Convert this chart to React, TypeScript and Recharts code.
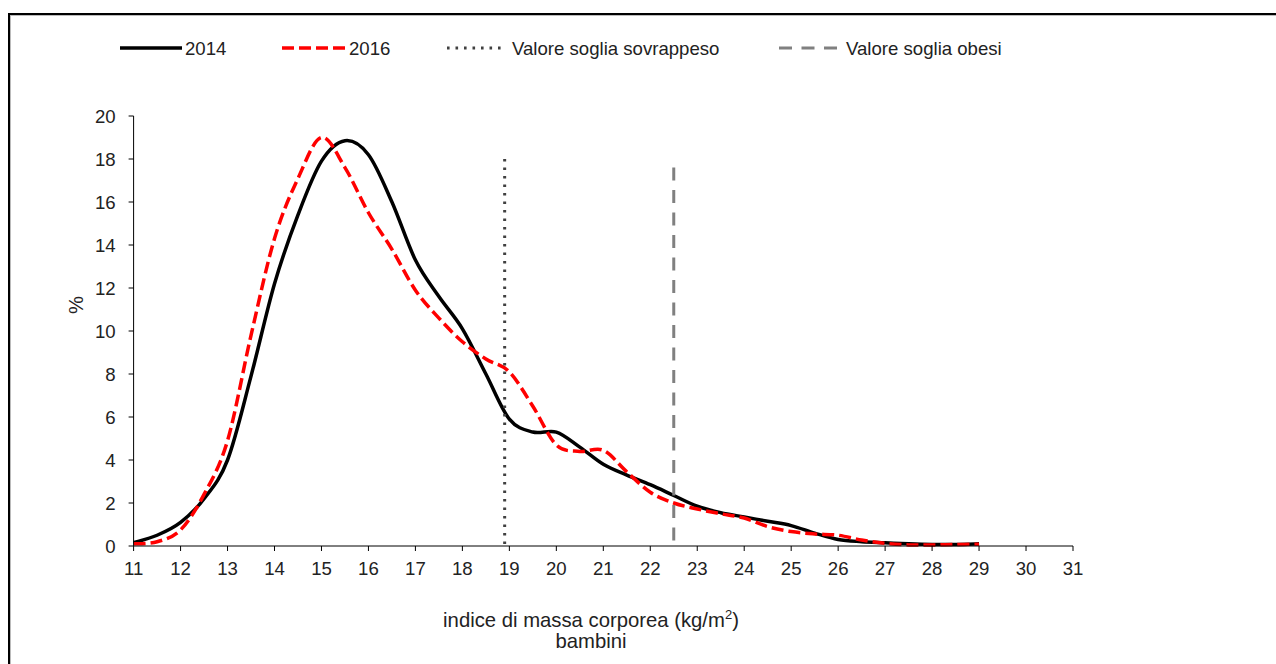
import React from 'react';
import { LineChart, Line, XAxis, YAxis, ReferenceLine } from 'recharts';

const bmi = [11, 11.5, 12, 12.5, 13, 13.5, 14, 14.5, 15, 15.5, 16, 16.5, 17, 17.5, 18, 18.5, 19, 19.5, 20, 20.5, 21, 21.5, 22, 22.5, 23, 23.5, 24, 24.5, 25, 25.5, 26, 26.5, 27, 27.5, 28, 28.5, 29];
const y2014 = [0.15, 0.5, 1.1, 2.2, 4.0, 7.9, 12.2, 15.4, 17.9, 18.85, 18.2, 16.0, 13.3, 11.6, 10.1, 8.0, 5.9, 5.3, 5.3, 4.6, 3.8, 3.3, 2.85, 2.35, 1.85, 1.55, 1.35, 1.15, 0.95, 0.6, 0.3, 0.2, 0.15, 0.1, 0.07, 0.07, 0.1];
const y2016 = [0.1, 0.2, 0.75, 2.4, 4.9, 9.8, 14.3, 17.1, 19.0, 17.6, 15.5, 13.8, 11.9, 10.6, 9.5, 8.7, 8.1, 6.5, 4.7, 4.4, 4.45, 3.45, 2.5, 2.0, 1.72, 1.5, 1.3, 0.9, 0.67, 0.56, 0.5, 0.28, 0.13, 0.05, 0.05, 0.07, 0.08];
const xTicks = [11, 12, 13, 14, 15, 16, 17, 18, 19, 20, 21, 22, 23, 24, 25, 26, 27, 28, 29, 30, 31];
const yTicks = [0, 2, 4, 6, 8, 10, 12, 14, 16, 18, 20];
const thresholdOver = 18.9;
const thresholdOverTop = 18;
const thresholdObese = 22.5;
const thresholdObeseTop = 17.6;
const legendLabels = ['2014', '2016', 'Valore soglia sovrappeso', 'Valore soglia obesi'];
const xTitle = 'indice di massa corporea (kg/m';
const xTitleSup = '2';
const xSubtitle = 'bambini';
const yTitle = '%';

const data = bmi.map((x, i) => ({ x, a: y2014[i], b: y2016[i] }));

const FONT = '"Liberation Sans", Arial, sans-serif';
const FS = 18.6;
const FT = 20.3;

// Catmull-Rom like smoothing (Excel "smoothed line")
const smooth: any = (context: any) => {
  let pts: number[][] = [];
  return {
    areaStart() {},
    areaEnd() {},
    lineStart() { pts = []; },
    lineEnd() {
      const n = pts.length;
      if (!n) return;
      context.moveTo(pts[0][0], pts[0][1]);
      for (let i = 0; i < n - 1; i++) {
        const p0 = pts[i - 1] || pts[i];
        const p1 = pts[i];
        const p2 = pts[i + 1];
        const p3 = pts[i + 2] || p2;
        context.bezierCurveTo(
          p1[0] + (p2[0] - p0[0]) / 6, p1[1] + (p2[1] - p0[1]) / 6,
          p2[0] - (p3[0] - p1[0]) / 6, p2[1] - (p3[1] - p1[1]) / 6,
          p2[0], p2[1]
        );
      }
    },
    point(x: number, y: number) { pts.push([+x, +y]); },
  };
};

const Legend = () => (
  <svg width={1276} height={80} style={{ position: 'absolute', left: 0, top: 0, pointerEvents: 'none' }}>
    <g fontFamily={FONT} fontSize={FS} fill="#222">
      <line x1={120} y1={48} x2={182} y2={48} stroke="#000" strokeWidth={3.5} />
      <text x={185} y={54.5}>{legendLabels[0]}</text>
      <line x1={282} y1={48} x2={346} y2={48} stroke="#ff0000" strokeWidth={3.5} strokeDasharray="12 5" />
      <text x={349} y={54.5}>{legendLabels[1]}</text>
      <line x1={447} y1={48} x2={506} y2={48} stroke="#404040" strokeWidth={3} strokeDasharray="2.6 5.9" />
      <text x={512} y={54.5}>{legendLabels[2]}</text>
      <line x1={779} y1={48} x2={838} y2={48} stroke="#808080" strokeWidth={3} strokeDasharray="13 9.5" />
      <text x={846} y={54.5}>{legendLabels[3]}</text>
    </g>
  </svg>
);

export default function App() {
  return (
    <div style={{ position: 'absolute', left: 0, top: 0, width: 1276, height: 664, overflow: 'hidden', background: '#fff' }}>
      <div style={{ position: 'absolute', left: 8, top: 13, width: 1268, height: 651, borderTop: '2px solid #000', borderLeft: '2px solid #000', boxShadow: 'inset 1px 1px 0 #bbb', boxSizing: 'border-box' }} />
      <div style={{ position: 'absolute', left: 0, top: 0 }}>
        <LineChart width={1276} height={664} data={data} margin={{ top: 116, right: 203, bottom: 78, left: 53.6 }}>
          <XAxis
            dataKey="x"
            type="number"
            domain={[11, 31]}
            ticks={xTicks}
            interval={0}
            height={40}
            axisLine={{ stroke: '#000', strokeWidth: 1 }}
            tickLine={{ stroke: '#000' }}
            tickSize={5}
            tickMargin={11}
            tick={{ fill: '#222', fontSize: FS, fontFamily: FONT }}
            label={{
              content: () => (
                <g fontFamily={FONT} fontSize={FT} fill="#222">
                  <text x={591} y={627} textAnchor="middle">
                    {xTitle}
                    <tspan fontSize={13} dy={-8}>{xTitleSup}</tspan>
                    <tspan dy={8}>)</tspan>
                  </text>
                  <text x={591} y={648} textAnchor="middle">{xSubtitle}</text>
                </g>
              ),
            }}
          />
          <YAxis
            type="number"
            domain={[0, 20]}
            ticks={yTicks}
            interval={0}
            width={80}
            axisLine={{ stroke: '#000', strokeWidth: 1 }}
            tickLine={{ stroke: '#000' }}
            tickSize={5}
            tickMargin={13}
            tick={{ fill: '#222', fontSize: FS, fontFamily: FONT }}
            label={{
              content: () => (
                <text x={83} y={305} transform="rotate(-90 83 305)" textAnchor="middle" fontFamily={FONT} fontSize={FT} fill="#222">
                  {yTitle}
                </text>
              ),
            }}
          />
          <Line dataKey="a" type={smooth} stroke="#000" strokeWidth={3.5} dot={false} activeDot={false} isAnimationActive={false} />
          <Line dataKey="b" type={smooth} stroke="#ff0000" strokeWidth={3.5} strokeDasharray="12 5" dot={false} activeDot={false} isAnimationActive={false} />
          <ReferenceLine segment={[{ x: thresholdOver, y: thresholdOverTop }, { x: thresholdOver, y: 0 }]} stroke="#404040" strokeWidth={3} strokeDasharray="2.6 5.9" />
          <ReferenceLine segment={[{ x: thresholdObese, y: thresholdObeseTop }, { x: thresholdObese, y: 0 }]} stroke="#808080" strokeWidth={3} strokeDasharray="13 9.5" />
        </LineChart>
      </div>
      <Legend />
    </div>
  );
}
